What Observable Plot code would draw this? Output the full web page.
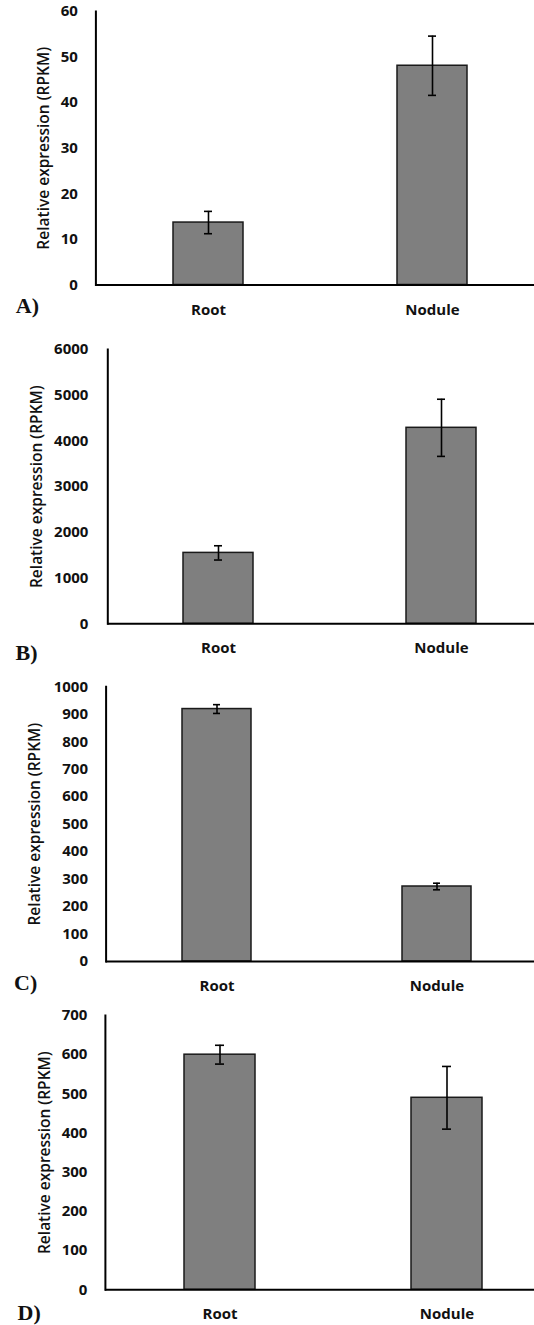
<!DOCTYPE html>
<html><head><meta charset="utf-8">
<script src="https://cdn.jsdelivr.net/npm/d3@7"></script>
<script src="https://cdn.jsdelivr.net/npm/@observablehq/plot@0.6"></script>
<style>
html,body{margin:0;padding:0;background:#fff;overflow:hidden;}
#chart{width:534px;}
#chart svg{display:block;}
</style></head><body><div id="chart"></div>
<script>
// ---- data ----
const categories = ["Root", "Nodule"];
const panelLabels = ["A)", "B)", "C)", "D)"];
const yTitle = "Relative expression (RPKM)";

const valuesA = [13.7, 48.1];
const errorsA = [2.45, 6.5];
const valuesB = [1551, 4287];
const errorsB = [156, 625];
const valuesC = [919, 273];
const errorsC = [16, 12];
const valuesD = [600, 490];
const errorsD = [24, 80];

const ticksA = [0, 10, 20, 30, 40, 50, 60];
const ticksB = [0, 1000, 2000, 3000, 4000, 5000, 6000];
const ticksC = [0, 100, 200, 300, 400, 500, 600, 700, 800, 900, 1000];
const ticksD = [0, 100, 200, 300, 400, 500, 600, 700];

// ---- layout (per panel) ----
const layouts = [
  {height: 322, mt: 11, mb: 37.5, ml: 95.4, pi: 0.6855, po: 0.318, align: 0.535, tp: 18, titleDx: -51.4, labelDx: -80.1, labelDy: 21},
  {height: 344, mt: 27, mb: 42.7, ml: 107.3, pi: 0.684, po: 0.298, align: 0.57, tp: 19.4, titleDx: -70.7, labelDx: -92.3, labelDy: 29.2},
  {height: 332, mt: 20.3, mb: 37, ml: 105.6, pi: 0.688, po: 0.316, align: 0.545, tp: 18.1, titleDx: -70.7, labelDx: -92, labelDy: 21},
  {height: 327, mt: 17, mb: 35.7, ml: 104.9, pi: 0.686, po: 0.286, align: 0.607, tp: 18, titleDx: -60.1, labelDx: -87.9, labelDy: 23}
];

const panels = [
  {values: valuesA, errors: errorsA, ticks: ticksA},
  {values: valuesB, errors: errorsB, ticks: ticksB},
  {values: valuesC, errors: errorsC, ticks: ticksC},
  {values: valuesD, errors: errorsD, ticks: ticksD}
];

const FONT = "'Open Sans', Lato, sans-serif";
const chart = document.getElementById("chart");

panels.forEach((p, i) => {
  const L = layouts[i];
  const rows = categories.map((c, j) => ({cat: c, v: p.values[j], lo: p.values[j] - p.errors[j], hi: p.values[j] + p.errors[j]}));
  const yMax = p.ticks[p.ticks.length - 1];
  const svg = Plot.plot({
    width: 534,
    height: L.height,
    marginTop: L.mt,
    marginBottom: L.mb,
    marginLeft: L.ml,
    marginRight: 0,
    style: {fontFamily: FONT, fontSize: "15px", fontWeight: "bold", color: "#111", background: "#fff"},
    x: {domain: categories, paddingInner: L.pi, paddingOuter: L.po, align: L.align, axis: null},
    y: {domain: [0, yMax], axis: null},
    marks: [
      Plot.barY(rows, {x: "cat", y: "v", fill: "#7f7f7f", stroke: "#1a1a1a", strokeWidth: 1.5}),
      Plot.ruleX(rows, {x: "cat", y1: "lo", y2: "hi", stroke: "#000", strokeWidth: 1.6}),
      Plot.tickY(rows, {x: "cat", y: "lo", stroke: "#000", strokeWidth: 1.6, insetLeft: 31, insetRight: 31}),
      Plot.tickY(rows, {x: "cat", y: "hi", stroke: "#000", strokeWidth: 1.6, insetLeft: 31, insetRight: 31}),
      Plot.ruleY([0], {stroke: "#000", strokeWidth: 2}),
      Plot.frame({anchor: "left", stroke: "#000", strokeWidth: 2}),
      Plot.axisY({ticks: p.ticks, tickSize: 0, tickPadding: L.tp, tickFormat: d => String(d), label: null, fill: "#111"}),
      Plot.axisX({tickSize: 0, tickPadding: 19, label: null, fill: "#111"}),
      Plot.text([yTitle], {frameAnchor: "left", rotate: -90, dx: L.titleDx, text: d => d, textAnchor: "middle", lineAnchor: "middle", fontSize: 15.5, fontWeight: 600, fill: "#111"}),
      Plot.text([panelLabels[i]], {frameAnchor: "bottom-left", dx: L.labelDx, dy: L.labelDy, text: d => d, textAnchor: "start", lineAnchor: "middle", fontFamily: "'Liberation Serif', 'Times New Roman', serif", fontSize: 22, fontWeight: "bold", fill: "#111"})
    ]
  });
  chart.appendChild(svg);
});
</script>
</body></html>
